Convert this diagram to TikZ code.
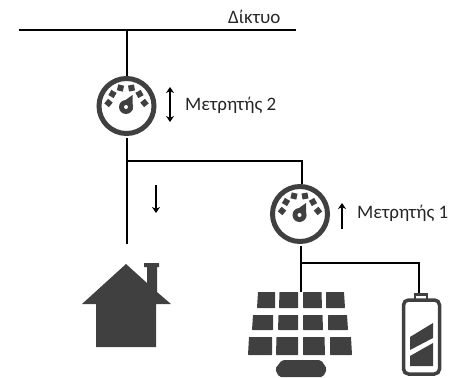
\documentclass[tikz,border=0pt]{standalone}
\usepackage{fontspec}
\setmainfont{Carlito}
\usetikzlibrary{arrows.meta}
\definecolor{icon}{HTML}{404040}
\definecolor{labeltext}{HTML}{262626}
\newcommand{\meterface}[1]{
	\begin{scope}[shift={(#1)},fill=icon]
		\foreach \tx/\ty in {-18/-3,-14/-12,-6/-18,5/-18,13/-12,18/-3}
			\fill[rotate around={\tx*2.2:(\tx,\ty)}] (\tx-3,\ty-3) rectangle (\tx+3,\ty+3);
		\fill (-0.5,1) circle (7);
		\fill (-6.5,-2) -- (6,-11) -- (6,4) -- cycle;
		\fill[white] (-0.5,1) circle (2);
	\end{scope}
}
\begin{document}
\begin{tikzpicture}[
		x=1pt,y=-1pt,
		wire/.style={draw=black,line width=2pt},
		flow/.style={draw=black,line width=1.2pt,>={Stealth[length=6pt,width=8pt]}},
		meter/.style={circle,draw=icon,line width=5pt,minimum size=55pt,inner sep=0pt},
		caption/.style={inner sep=0pt,text=labeltext,font=\fontsize{19}{21}\selectfont},
		panel/.style={fill=icon,rounded corners=0.5pt}
		]
		\useasboundingbox (0,0) rectangle (449,377);
		% grid and meters
		\coordinate (gridL) at (19,30);
		\coordinate (gridR) at (296,30);
		\coordinate (gridT) at (127,30);
		\node[caption,anchor=west] (grid) at (228,17) {Δίκτυο};
		\node[meter] (metr2) at (126.5,106) {};
		\node[meter] (metr1) at (300,214) {};
		\meterface{126.5,106}
		\meterface{300,214}
		\node[caption,anchor=west] (label2) at (185,105) {Μετρητής 2};
		\node[caption,anchor=west] (label1) at (357,213) {Μετρητής 1};
		% connections
		\coordinate (split) at (127,161);
		\coordinate (corner1) at (302,161);
		\coordinate (home) at (127,244);
		\coordinate (split1) at (301,263);
		\coordinate (corner2) at (419,263);
		\coordinate (pv) at (301,292);
		\coordinate (batt) at (419,293);
		\draw[wire] (gridL) -- (gridR);
		\draw[wire] (gridT) -- (gridT |- metr2.north);
		\draw[wire,shorten <=2pt] (split |- metr2.south) -- (home);
		\draw[wire] (split) -- (corner1) -- (corner1 |- metr1.north);
		\draw[wire,shorten <=2pt] (split1 |- metr1.south) -- (pv);
		\draw[wire] (split1) -- (corner2) -- (batt);
		% arrows
		\coordinate (a2t) at (170,87);
		\coordinate (a2b) at (170,122);
		\coordinate (a0t) at (156,185);
		\coordinate (a0b) at (156,213);
		\coordinate (a1t) at (342,203);
		\coordinate (a1b) at (342,229);
		\draw[flow,<->] (a2t) -- (a2b);
		\draw[flow,->] (a0t) -- (a0b);
		\draw[flow,->] (a1b) -- (a1t);
		% house
		\fill[icon] (126,264) -- (147,283) -- (147,267) -- (144,267) -- (144,263) -- (159,263)
			-- (159,267) -- (157,267) -- (157,292) -- (171,304) -- (156,304) -- (156,347)
			-- (96,347) -- (96,304) -- (82,304) -- cycle;
		% solar panel
		\foreach \ya/\yb/\xa/\xb/\xc/\xd/\xe/\xf/\xg/\xh in {
			292/308/257/275/279/298/303/322/326/345,
			315/330/252/273/278/298/303/323/328/348,
			337/355/248/272/276/298/303/325/330/352}
		{
			\fill[panel] (\xa+1,\ya) -- (\xb,\ya) -- (\xb,\yb) -- (\xa,\yb) -- cycle;
			\fill[panel] (\xc+0.5,\ya) -- (\xd,\ya) -- (\xd,\yb) -- (\xc,\yb) -- cycle;
			\fill[panel] (\xe,\ya) -- (\xf-0.5,\ya) -- (\xf,\yb) -- (\xe,\yb) -- cycle;
			\fill[panel] (\xg,\ya) -- (\xh-1,\ya) -- (\xh,\yb) -- (\xg,\yb) -- cycle;
		}
		\fill[icon,rounded corners=2pt] (282,360) -- (321,360) -- (327,369) -- (323,377) -- (279,377) -- (275,369) -- cycle;
		% battery
		\draw[icon,line width=3.5pt,rounded corners=5pt] (403.5,300) rectangle (439.5,374);
		\draw[icon,line width=2.5pt] (415,299) -- (415,294.5) -- (427,294.5) -- (427,299);
		\fill[icon] (410,337) -- (433,323) -- (433,338) -- (410,350) -- cycle;
		\fill[icon] (410,356) -- (433,343) -- (433,366) -- (410,366) -- cycle;
	\end{tikzpicture}
\end{document}
